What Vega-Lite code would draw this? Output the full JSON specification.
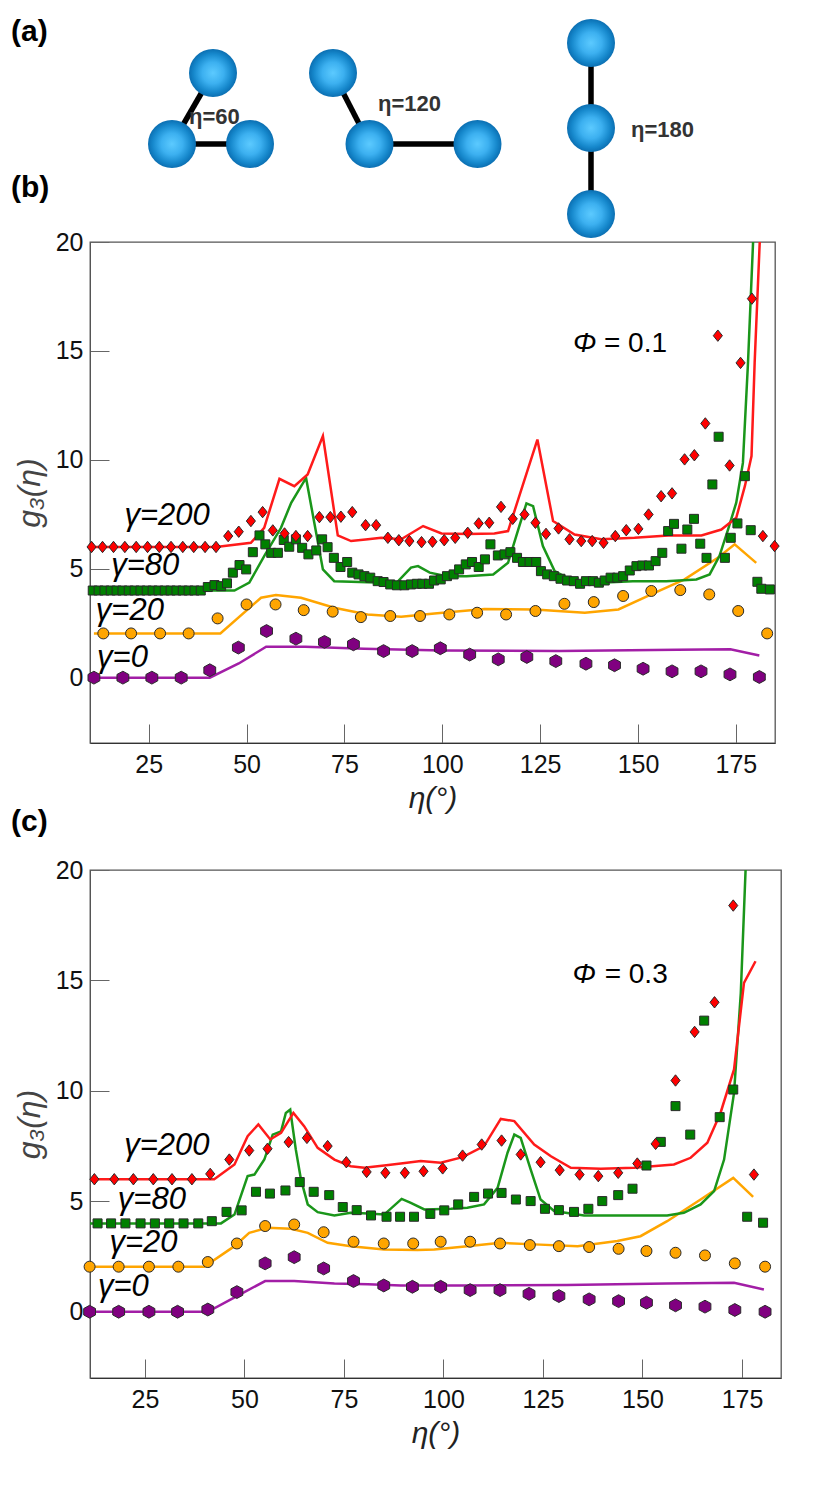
{
  "$schema": "https://vega.github.io/schema/vega-lite/v6.json",
  "background": "white",
  "padding": {"left": 10, "top": 0, "right": 0, "bottom": 0},
  "bounds": "flush",
  "spacing": 127,
  "config": {
    "font": "Liberation Sans",
    "view": {"stroke": "#555", "strokeWidth": 1.3},
    "axis": {"grid": false}
  },
  "datasets": {
    "atoms": [
      {"x": 212, "y": 73}, {"x": 171, "y": 144}, {"x": 249, "y": 144},
      {"x": 332, "y": 73}, {"x": 368.5, "y": 144}, {"x": 476.5, "y": 144},
      {"x": 590, "y": 43}, {"x": 590, "y": 128}, {"x": 590, "y": 214}
    ],
    "bonds": [
      {"x1": 171, "y1": 144, "x2": 212, "y2": 73},
      {"x1": 171, "y1": 144, "x2": 249, "y2": 144},
      {"x1": 332, "y1": 73, "x2": 368.5, "y2": 144},
      {"x1": 368.5, "y1": 144, "x2": 476.5, "y2": 144},
      {"x1": 590, "y1": 43, "x2": 590, "y2": 128},
      {"x1": 590, "y1": 128, "x2": 590, "y2": 214}
    ],
    "notes": [
      {"x": 188, "y": 117, "t": "η=60"},
      {"x": 377, "y": 104, "t": "η=120"},
      {"x": 630, "y": 130, "t": "η=180"}
    ],
    "panels": [
      {"x": 10, "y": 32, "t": "(a)"},
      {"x": 10, "y": 188, "t": "(b)"}
    ],
    "b_pts": [
      {"g": "0", "eta": 11, "val": 0}, {"g": "0", "eta": 18.4, "val": 0}, {"g": "0", "eta": 25.8, "val": 0}, {"g": "0", "eta": 33.3, "val": 0},
      {"g": "0", "eta": 40.6, "val": 0.34}, {"g": "0", "eta": 47.9, "val": 1.38}, {"g": "0", "eta": 55.1, "val": 2.14}, {"g": "0", "eta": 62.6, "val": 1.79},
      {"g": "0", "eta": 69.9, "val": 1.64}, {"g": "0", "eta": 77.3, "val": 1.53}, {"g": "0", "eta": 85, "val": 1.22}, {"g": "0", "eta": 92.3, "val": 1.22},
      {"g": "0", "eta": 99.5, "val": 1.35}, {"g": "0", "eta": 107, "val": 1.06}, {"g": "0", "eta": 114.3, "val": 0.84}, {"g": "0", "eta": 121.6, "val": 0.95},
      {"g": "0", "eta": 129, "val": 0.76}, {"g": "0", "eta": 136.7, "val": 0.64}, {"g": "0", "eta": 144, "val": 0.57}, {"g": "0", "eta": 151.3, "val": 0.41},
      {"g": "0", "eta": 158.7, "val": 0.29}, {"g": "0", "eta": 166.1, "val": 0.29}, {"g": "0", "eta": 173.5, "val": 0.15}, {"g": "0", "eta": 181, "val": 0.03},
      {"g": "20", "eta": 13.4, "val": 2.03}, {"g": "20", "eta": 20.5, "val": 2.03}, {"g": "20", "eta": 27.9, "val": 2.03}, {"g": "20", "eta": 35.2, "val": 2.03},
      {"g": "20", "eta": 42.6, "val": 2.72}, {"g": "20", "eta": 50, "val": 3.36}, {"g": "20", "eta": 57.4, "val": 3.36}, {"g": "20", "eta": 64.6, "val": 3.1},
      {"g": "20", "eta": 72, "val": 3.03}, {"g": "20", "eta": 79.2, "val": 2.78}, {"g": "20", "eta": 86.7, "val": 2.83}, {"g": "20", "eta": 94.3, "val": 2.83},
      {"g": "20", "eta": 101.8, "val": 2.9}, {"g": "20", "eta": 108.9, "val": 2.98}, {"g": "20", "eta": 116.3, "val": 2.9}, {"g": "20", "eta": 123.8, "val": 3.06},
      {"g": "20", "eta": 131.2, "val": 3.39}, {"g": "20", "eta": 138.7, "val": 3.47}, {"g": "20", "eta": 146.2, "val": 3.75}, {"g": "20", "eta": 153.4, "val": 3.98},
      {"g": "20", "eta": 160.8, "val": 4.02}, {"g": "20", "eta": 168.2, "val": 3.82}, {"g": "20", "eta": 175.6, "val": 3.06}, {"g": "20", "eta": 183, "val": 2.03},
      {"g": "80", "eta": 10.7, "val": 4}, {"g": "80", "eta": 12.2, "val": 4}, {"g": "80", "eta": 13.7, "val": 4}, {"g": "80", "eta": 15.3, "val": 4},
      {"g": "80", "eta": 16.8, "val": 4}, {"g": "80", "eta": 18.3, "val": 4}, {"g": "80", "eta": 19.9, "val": 4}, {"g": "80", "eta": 21.4, "val": 4},
      {"g": "80", "eta": 22.9, "val": 4}, {"g": "80", "eta": 24.5, "val": 4}, {"g": "80", "eta": 26, "val": 4}, {"g": "80", "eta": 27.5, "val": 4},
      {"g": "80", "eta": 29.1, "val": 4}, {"g": "80", "eta": 30.6, "val": 4}, {"g": "80", "eta": 32.1, "val": 4}, {"g": "80", "eta": 33.7, "val": 4},
      {"g": "80", "eta": 35.2, "val": 4}, {"g": "80", "eta": 36.7, "val": 4}, {"g": "80", "eta": 38.3, "val": 4},
      {"g": "80", "eta": 40.1, "val": 4.16}, {"g": "80", "eta": 41.8, "val": 4.25}, {"g": "80", "eta": 43.5, "val": 4.2}, {"g": "80", "eta": 45, "val": 4.33},
      {"g": "80", "eta": 46.5, "val": 4.82}, {"g": "80", "eta": 48.2, "val": 5.17}, {"g": "80", "eta": 49.9, "val": 4.97}, {"g": "80", "eta": 51.6, "val": 5.76},
      {"g": "80", "eta": 53.3, "val": 6.53}, {"g": "80", "eta": 54.8, "val": 6.12}, {"g": "80", "eta": 56.3, "val": 5.73}, {"g": "80", "eta": 58, "val": 5.73},
      {"g": "80", "eta": 59.5, "val": 6.32}, {"g": "80", "eta": 60.9, "val": 6.01}, {"g": "80", "eta": 62.6, "val": 6.35}, {"g": "80", "eta": 64.2, "val": 5.96},
      {"g": "80", "eta": 65.8, "val": 5.66}, {"g": "80", "eta": 67.8, "val": 5.84}, {"g": "80", "eta": 69.3, "val": 6.35}, {"g": "80", "eta": 70.7, "val": 5.99},
      {"g": "80", "eta": 72.3, "val": 5.5}, {"g": "80", "eta": 74, "val": 5.08}, {"g": "80", "eta": 75.7, "val": 5.31}, {"g": "80", "eta": 77, "val": 4.82},
      {"g": "80", "eta": 78.6, "val": 4.74}, {"g": "80", "eta": 80.1, "val": 4.66}, {"g": "80", "eta": 81.6, "val": 4.59}, {"g": "80", "eta": 83.5, "val": 4.43},
      {"g": "80", "eta": 85, "val": 4.39}, {"g": "80", "eta": 86.7, "val": 4.28}, {"g": "80", "eta": 88.4, "val": 4.24}, {"g": "80", "eta": 90.3, "val": 4.24},
      {"g": "80", "eta": 92, "val": 4.28}, {"g": "80", "eta": 93.5, "val": 4.31}, {"g": "80", "eta": 94.9, "val": 4.31}, {"g": "80", "eta": 96.6, "val": 4.31},
      {"g": "80", "eta": 97.9, "val": 4.46}, {"g": "80", "eta": 99.6, "val": 4.51}, {"g": "80", "eta": 101.2, "val": 4.66}, {"g": "80", "eta": 102.9, "val": 4.74},
      {"g": "80", "eta": 104.3, "val": 4.97}, {"g": "80", "eta": 106, "val": 5.2}, {"g": "80", "eta": 107.6, "val": 5.31}, {"g": "80", "eta": 109.3, "val": 5.08},
      {"g": "80", "eta": 110.9, "val": 5.43}, {"g": "80", "eta": 112.3, "val": 6.12}, {"g": "80", "eta": 114.2, "val": 5.61}, {"g": "80", "eta": 115.9, "val": 5.66},
      {"g": "80", "eta": 117.4, "val": 5.76}, {"g": "80", "eta": 119.1, "val": 5.5}, {"g": "80", "eta": 120.6, "val": 5.31}, {"g": "80", "eta": 122.3, "val": 5.31},
      {"g": "80", "eta": 124, "val": 5.31}, {"g": "80", "eta": 125.2, "val": 4.89}, {"g": "80", "eta": 126.8, "val": 4.74}, {"g": "80", "eta": 128.5, "val": 4.66},
      {"g": "80", "eta": 130.2, "val": 4.54}, {"g": "80", "eta": 131.9, "val": 4.46}, {"g": "80", "eta": 133.6, "val": 4.43}, {"g": "80", "eta": 135.2, "val": 4.31},
      {"g": "80", "eta": 136.7, "val": 4.43}, {"g": "80", "eta": 138.5, "val": 4.43}, {"g": "80", "eta": 140, "val": 4.36}, {"g": "80", "eta": 141.5, "val": 4.46},
      {"g": "80", "eta": 143, "val": 4.59}, {"g": "80", "eta": 144.7, "val": 4.59}, {"g": "80", "eta": 146.2, "val": 4.66}, {"g": "80", "eta": 147.9, "val": 4.92},
      {"g": "80", "eta": 149.6, "val": 5.12}, {"g": "80", "eta": 151.1, "val": 5.15}, {"g": "80", "eta": 152.8, "val": 5.15}, {"g": "80", "eta": 154.5, "val": 5.35},
      {"g": "80", "eta": 156.2, "val": 5.73}, {"g": "80", "eta": 157.7, "val": 6.73}, {"g": "80", "eta": 159.2, "val": 7.06}, {"g": "80", "eta": 161.1, "val": 5.92},
      {"g": "80", "eta": 162.6, "val": 6.8}, {"g": "80", "eta": 164.3, "val": 7.29}, {"g": "80", "eta": 165.9, "val": 6.15}, {"g": "80", "eta": 167.5, "val": 5.5},
      {"g": "80", "eta": 169, "val": 8.87}, {"g": "80", "eta": 170.6, "val": 11.06}, {"g": "80", "eta": 172.2, "val": 5.5}, {"g": "80", "eta": 173.7, "val": 6.42},
      {"g": "80", "eta": 175.4, "val": 7.08}, {"g": "80", "eta": 177.3, "val": 9.25}, {"g": "80", "eta": 178.8, "val": 6.77}, {"g": "80", "eta": 180.5, "val": 4.4},
      {"g": "80", "eta": 181.5, "val": 4.08}, {"g": "80", "eta": 183.7, "val": 4.05},
      {"g": "200", "eta": 10.4, "val": 6}, {"g": "200", "eta": 13.2, "val": 6}, {"g": "200", "eta": 16, "val": 6}, {"g": "200", "eta": 18.9, "val": 6},
      {"g": "200", "eta": 21.8, "val": 6}, {"g": "200", "eta": 24.7, "val": 6}, {"g": "200", "eta": 27.7, "val": 6}, {"g": "200", "eta": 30.7, "val": 6},
      {"g": "200", "eta": 33.7, "val": 6}, {"g": "200", "eta": 36.5, "val": 6}, {"g": "200", "eta": 39.4, "val": 6}, {"g": "200", "eta": 42.2, "val": 6},
      {"g": "200", "eta": 45.3, "val": 6.5}, {"g": "200", "eta": 48, "val": 6.7}, {"g": "200", "eta": 51.1, "val": 7.19}, {"g": "200", "eta": 54.1, "val": 7.6},
      {"g": "200", "eta": 56.7, "val": 6.76}, {"g": "200", "eta": 59.7, "val": 6.62}, {"g": "200", "eta": 62.6, "val": 6.5}, {"g": "200", "eta": 65.6, "val": 6.5},
      {"g": "200", "eta": 68.6, "val": 7.37}, {"g": "200", "eta": 71.4, "val": 7.37}, {"g": "200", "eta": 74.1, "val": 7.39}, {"g": "200", "eta": 77, "val": 7.6},
      {"g": "200", "eta": 80.4, "val": 7}, {"g": "200", "eta": 83.1, "val": 7}, {"g": "200", "eta": 86.1, "val": 6.42}, {"g": "200", "eta": 88.9, "val": 6.31},
      {"g": "200", "eta": 91.6, "val": 6.27}, {"g": "200", "eta": 94.7, "val": 6.22}, {"g": "200", "eta": 97.5, "val": 6.24}, {"g": "200", "eta": 100.5, "val": 6.31},
      {"g": "200", "eta": 103.3, "val": 6.42}, {"g": "200", "eta": 106.5, "val": 6.65}, {"g": "200", "eta": 109.3, "val": 7.08}, {"g": "200", "eta": 112, "val": 7.11},
      {"g": "200", "eta": 115, "val": 7.84}, {"g": "200", "eta": 118, "val": 7.29}, {"g": "200", "eta": 121, "val": 7.49}, {"g": "200", "eta": 123.8, "val": 7.11},
      {"g": "200", "eta": 126.5, "val": 6.6}, {"g": "200", "eta": 129.7, "val": 6.85}, {"g": "200", "eta": 132.5, "val": 6.35}, {"g": "200", "eta": 135.5, "val": 6.27},
      {"g": "200", "eta": 138.3, "val": 6.27}, {"g": "200", "eta": 141.2, "val": 6.19}, {"g": "200", "eta": 144.2, "val": 6.5}, {"g": "200", "eta": 147, "val": 6.77},
      {"g": "200", "eta": 150.1, "val": 6.83}, {"g": "200", "eta": 152.7, "val": 7.49}, {"g": "200", "eta": 155.9, "val": 8.33}, {"g": "200", "eta": 158.7, "val": 8.46},
      {"g": "200", "eta": 161.9, "val": 10.02}, {"g": "200", "eta": 164.4, "val": 10.21}, {"g": "200", "eta": 167.2, "val": 11.67}, {"g": "200", "eta": 170.4, "val": 15.7},
      {"g": "200", "eta": 173.4, "val": 9.74}, {"g": "200", "eta": 176.2, "val": 14.45}, {"g": "200", "eta": 179.1, "val": 17.4}, {"g": "200", "eta": 181.9, "val": 6.5},
      {"g": "200", "eta": 184.9, "val": 6.04}
    ],
    "b_lines": [
      {"g": "0", "eta": 11, "val": 0}, {"g": "0", "eta": 40.6, "val": 0}, {"g": "0", "eta": 48, "val": 0.65}, {"g": "0", "eta": 55, "val": 1.42},
      {"g": "0", "eta": 65, "val": 1.42}, {"g": "0", "eta": 80, "val": 1.33}, {"g": "0", "eta": 100, "val": 1.25}, {"g": "0", "eta": 130, "val": 1.22},
      {"g": "0", "eta": 160, "val": 1.28}, {"g": "0", "eta": 173.6, "val": 1.3}, {"g": "0", "eta": 181, "val": 1.02},
      {"g": "20", "eta": 11, "val": 2.03}, {"g": "20", "eta": 43.3, "val": 2.03}, {"g": "20", "eta": 53.7, "val": 3.67}, {"g": "20", "eta": 57.5, "val": 3.79},
      {"g": "20", "eta": 63.9, "val": 3.67}, {"g": "20", "eta": 72.4, "val": 3.21}, {"g": "20", "eta": 80.9, "val": 2.9}, {"g": "20", "eta": 89.5, "val": 2.8},
      {"g": "20", "eta": 98, "val": 2.95}, {"g": "20", "eta": 110.8, "val": 3.15}, {"g": "20", "eta": 123.6, "val": 3.13}, {"g": "20", "eta": 136.4, "val": 2.98},
      {"g": "20", "eta": 145, "val": 3.13}, {"g": "20", "eta": 153.4, "val": 3.82}, {"g": "20", "eta": 161.9, "val": 4.51}, {"g": "20", "eta": 170.4, "val": 5.5},
      {"g": "20", "eta": 174.7, "val": 6.12}, {"g": "20", "eta": 180.2, "val": 5.27},
      {"g": "80", "eta": 11, "val": 4}, {"g": "80", "eta": 46.9, "val": 4}, {"g": "80", "eta": 50.7, "val": 4.36}, {"g": "80", "eta": 54.5, "val": 5.58},
      {"g": "80", "eta": 58.8, "val": 6.88}, {"g": "80", "eta": 61.4, "val": 8.03}, {"g": "80", "eta": 65.2, "val": 9.17}, {"g": "80", "eta": 67.3, "val": 7.11},
      {"g": "80", "eta": 69.5, "val": 4.97}, {"g": "80", "eta": 72.4, "val": 4.43}, {"g": "80", "eta": 76.7, "val": 4.4}, {"g": "80", "eta": 85.2, "val": 4.36},
      {"g": "80", "eta": 88.2, "val": 4.33}, {"g": "80", "eta": 92, "val": 5.05}, {"g": "80", "eta": 93.8, "val": 5.12}, {"g": "80", "eta": 96.8, "val": 4.82},
      {"g": "80", "eta": 101.1, "val": 4.66}, {"g": "80", "eta": 106.2, "val": 4.66}, {"g": "80", "eta": 113, "val": 4.74}, {"g": "80", "eta": 116.8, "val": 5.27},
      {"g": "80", "eta": 119.4, "val": 6.8}, {"g": "80", "eta": 121.5, "val": 8}, {"g": "80", "eta": 123.2, "val": 7.87}, {"g": "80", "eta": 125.7, "val": 6.04},
      {"g": "80", "eta": 128.7, "val": 4.89}, {"g": "80", "eta": 133.4, "val": 4.43}, {"g": "80", "eta": 140.2, "val": 4.36}, {"g": "80", "eta": 148.7, "val": 4.43},
      {"g": "80", "eta": 157.2, "val": 4.43}, {"g": "80", "eta": 164.9, "val": 4.51}, {"g": "80", "eta": 168.3, "val": 4.74}, {"g": "80", "eta": 170.8, "val": 5.58},
      {"g": "80", "eta": 173, "val": 6.8}, {"g": "80", "eta": 175.1, "val": 8.03}, {"g": "80", "eta": 176.8, "val": 9.86}, {"g": "80", "eta": 178.1, "val": 14.45},
      {"g": "80", "eta": 179.4, "val": 20}, {"g": "80", "eta": 180, "val": 24},
      {"g": "200", "eta": 11, "val": 6}, {"g": "200", "eta": 42.2, "val": 6}, {"g": "200", "eta": 51.1, "val": 6.19}, {"g": "200", "eta": 54.5, "val": 6.88},
      {"g": "200", "eta": 58.4, "val": 9.13}, {"g": "200", "eta": 62.2, "val": 8.79}, {"g": "200", "eta": 65.6, "val": 9.33}, {"g": "200", "eta": 69.5, "val": 11.09},
      {"g": "200", "eta": 73.3, "val": 6.53}, {"g": "200", "eta": 76.7, "val": 6.27}, {"g": "200", "eta": 81, "val": 6.35}, {"g": "200", "eta": 84.4, "val": 6.42},
      {"g": "200", "eta": 89.5, "val": 6.35}, {"g": "200", "eta": 95.1, "val": 6.96}, {"g": "200", "eta": 99.8, "val": 6.62}, {"g": "200", "eta": 106.5, "val": 6.6},
      {"g": "200", "eta": 113.3, "val": 6.62}, {"g": "200", "eta": 116.8, "val": 6.73}, {"g": "200", "eta": 124.3, "val": 10.93}, {"g": "200", "eta": 128.3, "val": 7.19},
      {"g": "200", "eta": 133.8, "val": 6.57}, {"g": "200", "eta": 140.6, "val": 6.35}, {"g": "200", "eta": 149.1, "val": 6.42}, {"g": "200", "eta": 157.7, "val": 6.53},
      {"g": "200", "eta": 166.2, "val": 6.53}, {"g": "200", "eta": 171.3, "val": 6.8}, {"g": "200", "eta": 175.1, "val": 7.34}, {"g": "200", "eta": 177.3, "val": 8.79},
      {"g": "200", "eta": 179, "val": 10.17}, {"g": "200", "eta": 179.8, "val": 14.45}, {"g": "200", "eta": 181.1, "val": 20}, {"g": "200", "eta": 181.6, "val": 24}
    ],
    "b_text": [
      {"kind": "gamma", "eta": 18.8, "val": 7.4, "t": "γ=200"},
      {"kind": "gamma", "eta": 15.4, "val": 5.12, "t": "γ=80"},
      {"kind": "gamma", "eta": 11.5, "val": 3.06, "t": "γ=20"},
      {"kind": "gamma", "eta": 11.8, "val": 0.92, "t": "γ=0"},
      {"kind": "phi", "eta": 133.4, "val": 15.3, "t": "Φ"},
      {"kind": "phival", "eta": 141.3, "val": 15.3, "t": "= 0.1"}
    ],
    "c_pts": [
      {"g": "0", "eta": 11.1, "val": 0}, {"g": "0", "eta": 18.4, "val": 0}, {"g": "0", "eta": 26, "val": 0}, {"g": "0", "eta": 33.2, "val": 0},
      {"g": "0", "eta": 40.8, "val": 0.1}, {"g": "0", "eta": 48.1, "val": 0.89}, {"g": "0", "eta": 55.2, "val": 2.19}, {"g": "0", "eta": 62.5, "val": 2.47},
      {"g": "0", "eta": 69.9, "val": 1.96}, {"g": "0", "eta": 77.4, "val": 1.39}, {"g": "0", "eta": 85, "val": 1.19}, {"g": "0", "eta": 92.2, "val": 1.13},
      {"g": "0", "eta": 99.3, "val": 1.13}, {"g": "0", "eta": 106.7, "val": 0.98}, {"g": "0", "eta": 114.2, "val": 0.98}, {"g": "0", "eta": 121.5, "val": 0.81},
      {"g": "0", "eta": 129, "val": 0.71}, {"g": "0", "eta": 136.6, "val": 0.56}, {"g": "0", "eta": 144, "val": 0.48}, {"g": "0", "eta": 151, "val": 0.41},
      {"g": "0", "eta": 158.3, "val": 0.29}, {"g": "0", "eta": 165.7, "val": 0.23}, {"g": "0", "eta": 173.2, "val": 0.08}, {"g": "0", "eta": 180.8, "val": 0},
      {"g": "20", "eta": 11.1, "val": 2.04}, {"g": "20", "eta": 18.4, "val": 2.04}, {"g": "20", "eta": 26, "val": 2.04}, {"g": "20", "eta": 33.4, "val": 2.04},
      {"g": "20", "eta": 40.8, "val": 2.25}, {"g": "20", "eta": 48.1, "val": 3.09}, {"g": "20", "eta": 55.2, "val": 3.88}, {"g": "20", "eta": 62.5, "val": 3.95},
      {"g": "20", "eta": 69.9, "val": 3.6}, {"g": "20", "eta": 77.4, "val": 3.17}, {"g": "20", "eta": 85, "val": 3.09}, {"g": "20", "eta": 92.4, "val": 3.09},
      {"g": "20", "eta": 99.3, "val": 3.17}, {"g": "20", "eta": 106.7, "val": 3.17}, {"g": "20", "eta": 114.2, "val": 3.09}, {"g": "20", "eta": 121.7, "val": 3.02},
      {"g": "20", "eta": 129, "val": 2.97}, {"g": "20", "eta": 136.6, "val": 2.93}, {"g": "20", "eta": 144, "val": 2.85}, {"g": "20", "eta": 151, "val": 2.75},
      {"g": "20", "eta": 158.3, "val": 2.67}, {"g": "20", "eta": 165.7, "val": 2.55}, {"g": "20", "eta": 173.2, "val": 2.19}, {"g": "20", "eta": 180.8, "val": 2.04},
      {"g": "80", "eta": 13.1, "val": 4}, {"g": "80", "eta": 16.5, "val": 4}, {"g": "80", "eta": 20.1, "val": 4}, {"g": "80", "eta": 23.9, "val": 4},
      {"g": "80", "eta": 27.5, "val": 4}, {"g": "80", "eta": 31.1, "val": 4}, {"g": "80", "eta": 34.7, "val": 4}, {"g": "80", "eta": 38.4, "val": 4},
      {"g": "80", "eta": 41.8, "val": 4.1}, {"g": "80", "eta": 45.5, "val": 4.52}, {"g": "80", "eta": 49.3, "val": 4.59}, {"g": "80", "eta": 52.9, "val": 5.43},
      {"g": "80", "eta": 56.4, "val": 5.35}, {"g": "80", "eta": 60.3, "val": 5.49}, {"g": "80", "eta": 63.9, "val": 5.87}, {"g": "80", "eta": 67.4, "val": 5.43},
      {"g": "80", "eta": 71.3, "val": 5.28}, {"g": "80", "eta": 74.7, "val": 4.74}, {"g": "80", "eta": 78.2, "val": 4.6}, {"g": "80", "eta": 81.8, "val": 4.36},
      {"g": "80", "eta": 85.7, "val": 4.3}, {"g": "80", "eta": 89.1, "val": 4.3}, {"g": "80", "eta": 92.6, "val": 4.3}, {"g": "80", "eta": 96.7, "val": 4.43},
      {"g": "80", "eta": 100.2, "val": 4.59}, {"g": "80", "eta": 103.7, "val": 4.86}, {"g": "80", "eta": 107.7, "val": 5.2}, {"g": "80", "eta": 111.2, "val": 5.35},
      {"g": "80", "eta": 114.6, "val": 5.38}, {"g": "80", "eta": 118.2, "val": 5.08}, {"g": "80", "eta": 121.9, "val": 5.01}, {"g": "80", "eta": 125.5, "val": 4.66},
      {"g": "80", "eta": 129, "val": 4.6}, {"g": "80", "eta": 132.8, "val": 4.52}, {"g": "80", "eta": 136.4, "val": 4.66}, {"g": "80", "eta": 139.9, "val": 5.01},
      {"g": "80", "eta": 143.9, "val": 5.28}, {"g": "80", "eta": 147.5, "val": 5.57}, {"g": "80", "eta": 151, "val": 6.62}, {"g": "80", "eta": 154.6, "val": 7.69},
      {"g": "80", "eta": 158.3, "val": 9.31}, {"g": "80", "eta": 162, "val": 8.02}, {"g": "80", "eta": 165.5, "val": 13.18}, {"g": "80", "eta": 169.4, "val": 8.81},
      {"g": "80", "eta": 172.8, "val": 10.06}, {"g": "80", "eta": 176.3, "val": 4.3}, {"g": "80", "eta": 180.3, "val": 4.03},
      {"g": "200", "eta": 12.3, "val": 6}, {"g": "200", "eta": 17.3, "val": 6}, {"g": "200", "eta": 22.1, "val": 6}, {"g": "200", "eta": 27.1, "val": 6},
      {"g": "200", "eta": 31.8, "val": 6}, {"g": "200", "eta": 36.8, "val": 6}, {"g": "200", "eta": 41.4, "val": 6.24}, {"g": "200", "eta": 46.2, "val": 6.89},
      {"g": "200", "eta": 51.2, "val": 7.3}, {"g": "200", "eta": 55.8, "val": 7.38}, {"g": "200", "eta": 61.1, "val": 7.68}, {"g": "200", "eta": 65.7, "val": 7.87},
      {"g": "200", "eta": 70.9, "val": 7.5}, {"g": "200", "eta": 75.6, "val": 6.77}, {"g": "200", "eta": 80.7, "val": 6.33}, {"g": "200", "eta": 85.4, "val": 6.29},
      {"g": "200", "eta": 90.3, "val": 6.29}, {"g": "200", "eta": 95, "val": 6.36}, {"g": "200", "eta": 99.8, "val": 6.49}, {"g": "200", "eta": 104.8, "val": 7.07},
      {"g": "200", "eta": 109.6, "val": 7.57}, {"g": "200", "eta": 114.6, "val": 7.75}, {"g": "200", "eta": 119.4, "val": 7.12}, {"g": "200", "eta": 124.4, "val": 6.77},
      {"g": "200", "eta": 129.2, "val": 6.41}, {"g": "200", "eta": 134.2, "val": 6.21}, {"g": "200", "eta": 138.9, "val": 6.14}, {"g": "200", "eta": 143.9, "val": 6.29},
      {"g": "200", "eta": 148.7, "val": 6.71}, {"g": "200", "eta": 153.3, "val": 7.6}, {"g": "200", "eta": 158.3, "val": 10.47}, {"g": "200", "eta": 163.1, "val": 12.67},
      {"g": "200", "eta": 168.1, "val": 14.01}, {"g": "200", "eta": 172.8, "val": 18.39}, {"g": "200", "eta": 178, "val": 6.21}
    ],
    "c_lines": [
      {"g": "0", "eta": 11, "val": 0}, {"g": "0", "eta": 40.8, "val": 0}, {"g": "0", "eta": 48, "val": 0.7}, {"g": "0", "eta": 55.2, "val": 1.39},
      {"g": "0", "eta": 62.5, "val": 1.39}, {"g": "0", "eta": 72.6, "val": 1.28}, {"g": "0", "eta": 81, "val": 1.24}, {"g": "0", "eta": 89.3, "val": 1.19},
      {"g": "0", "eta": 106, "val": 1.19}, {"g": "0", "eta": 131, "val": 1.21}, {"g": "0", "eta": 156, "val": 1.28}, {"g": "0", "eta": 173, "val": 1.31},
      {"g": "0", "eta": 180.5, "val": 1.01},
      {"g": "20", "eta": 11, "val": 2.04}, {"g": "20", "eta": 39.9, "val": 2.04}, {"g": "20", "eta": 47.5, "val": 2.97}, {"g": "20", "eta": 51.2, "val": 3.57},
      {"g": "20", "eta": 55.8, "val": 3.8}, {"g": "20", "eta": 61.7, "val": 3.76}, {"g": "20", "eta": 65.9, "val": 3.57}, {"g": "20", "eta": 70.9, "val": 3.12},
      {"g": "20", "eta": 76.7, "val": 2.97}, {"g": "20", "eta": 85.1, "val": 2.82}, {"g": "20", "eta": 93.5, "val": 2.79}, {"g": "20", "eta": 97.7, "val": 2.82},
      {"g": "20", "eta": 106, "val": 2.97}, {"g": "20", "eta": 114.4, "val": 3.12}, {"g": "20", "eta": 122.8, "val": 3.05}, {"g": "20", "eta": 133.7, "val": 2.97},
      {"g": "20", "eta": 143.7, "val": 3.2}, {"g": "20", "eta": 149.5, "val": 3.42}, {"g": "20", "eta": 156.2, "val": 4.1}, {"g": "20", "eta": 164.6, "val": 5.08},
      {"g": "20", "eta": 172.8, "val": 6.06}, {"g": "20", "eta": 177.8, "val": 5.2},
      {"g": "80", "eta": 11, "val": 4}, {"g": "80", "eta": 44.1, "val": 4}, {"g": "80", "eta": 47.5, "val": 4.4}, {"g": "80", "eta": 50.8, "val": 6.14},
      {"g": "80", "eta": 52.5, "val": 6.21}, {"g": "80", "eta": 55, "val": 6.89}, {"g": "80", "eta": 57.1, "val": 8.02}, {"g": "80", "eta": 59.2, "val": 8.17},
      {"g": "80", "eta": 60.4, "val": 9}, {"g": "80", "eta": 61.5, "val": 9.15}, {"g": "80", "eta": 62.9, "val": 7.35}, {"g": "80", "eta": 64.2, "val": 5.99},
      {"g": "80", "eta": 65.9, "val": 4.86}, {"g": "80", "eta": 68.4, "val": 4.51}, {"g": "80", "eta": 72.6, "val": 4.36}, {"g": "80", "eta": 76.7, "val": 4.48},
      {"g": "80", "eta": 81, "val": 4.45}, {"g": "80", "eta": 85.1, "val": 4.4}, {"g": "80", "eta": 89.5, "val": 5.11}, {"g": "80", "eta": 91.8, "val": 4.93},
      {"g": "80", "eta": 95.2, "val": 4.63}, {"g": "80", "eta": 101.9, "val": 4.66}, {"g": "80", "eta": 106, "val": 4.71}, {"g": "80", "eta": 110.2, "val": 4.86},
      {"g": "80", "eta": 113.6, "val": 5.61}, {"g": "80", "eta": 116.1, "val": 7.2}, {"g": "80", "eta": 117.8, "val": 8.02}, {"g": "80", "eta": 119.4, "val": 7.87},
      {"g": "80", "eta": 121.9, "val": 6.44}, {"g": "80", "eta": 124.4, "val": 5.08}, {"g": "80", "eta": 127.8, "val": 4.56}, {"g": "80", "eta": 135.3, "val": 4.36},
      {"g": "80", "eta": 147.9, "val": 4.36}, {"g": "80", "eta": 156.2, "val": 4.36}, {"g": "80", "eta": 160.4, "val": 4.48}, {"g": "80", "eta": 164.6, "val": 4.86},
      {"g": "80", "eta": 168, "val": 5.46}, {"g": "80", "eta": 170.5, "val": 6.89}, {"g": "80", "eta": 173, "val": 9.91}, {"g": "80", "eta": 174.7, "val": 14.43},
      {"g": "80", "eta": 175.9, "val": 20}, {"g": "80", "eta": 176.3, "val": 24},
      {"g": "200", "eta": 11, "val": 6}, {"g": "200", "eta": 42.4, "val": 6}, {"g": "200", "eta": 47.5, "val": 6.67}, {"g": "200", "eta": 50.8, "val": 7.95},
      {"g": "200", "eta": 53.5, "val": 8.48}, {"g": "200", "eta": 56.5, "val": 7.8}, {"g": "200", "eta": 59.2, "val": 8.1}, {"g": "200", "eta": 62.3, "val": 9},
      {"g": "200", "eta": 65, "val": 8.4}, {"g": "200", "eta": 68.4, "val": 7.42}, {"g": "200", "eta": 72.6, "val": 6.89}, {"g": "200", "eta": 76.7, "val": 6.59},
      {"g": "200", "eta": 80.1, "val": 6.52}, {"g": "200", "eta": 85.1, "val": 6.62}, {"g": "200", "eta": 89.3, "val": 6.71}, {"g": "200", "eta": 94.3, "val": 6.82},
      {"g": "200", "eta": 99.3, "val": 6.75}, {"g": "200", "eta": 104.8, "val": 7}, {"g": "200", "eta": 110.2, "val": 7.5}, {"g": "200", "eta": 114.4, "val": 8.73},
      {"g": "200", "eta": 117.8, "val": 8.63}, {"g": "200", "eta": 122.8, "val": 7.57}, {"g": "200", "eta": 127, "val": 7.04}, {"g": "200", "eta": 132, "val": 6.52},
      {"g": "200", "eta": 139.5, "val": 6.47}, {"g": "200", "eta": 147.9, "val": 6.52}, {"g": "200", "eta": 157.9, "val": 6.67}, {"g": "200", "eta": 162.1, "val": 6.97},
      {"g": "200", "eta": 166.3, "val": 7.65}, {"g": "200", "eta": 169.6, "val": 9}, {"g": "200", "eta": 173, "val": 10.97}, {"g": "200", "eta": 175.5, "val": 14.89},
      {"g": "200", "eta": 178.4, "val": 15.87}
    ],
    "c_text": [
      {"kind": "gamma", "eta": 19.8, "val": 7.49, "t": "γ=200"},
      {"kind": "gamma", "eta": 18.2, "val": 5.08, "t": "γ=80"},
      {"kind": "gamma", "eta": 16.1, "val": 3.13, "t": "γ=20"},
      {"kind": "gamma", "eta": 13.2, "val": 1.1, "t": "γ=0"},
      {"kind": "phi", "eta": 132.4, "val": 15.26, "t": "Φ"},
      {"kind": "phival", "eta": 140.5, "val": 15.26, "t": "= 0.3"},
      {"kind": "panel", "eta": -8.65, "val": 22.17, "t": "(c)"}
    ]
  },
  "vconcat": [
    {
      "width": 685,
      "height": 115,
      "view": {"stroke": null},
      "encoding": {
        "x": {"field": "x", "type": "quantitative", "scale": {"domain": [89, 774]}, "axis": null},
        "y": {"field": "y", "type": "quantitative", "scale": {"domain": [0, 115], "reverse": true}, "axis": null}
      },
      "layer": [
        {
          "data": {"name": "bonds"},
          "mark": {"type": "rule", "strokeWidth": 5.5, "color": "#000000"},
          "encoding": {
            "x": {"field": "x1", "type": "quantitative", "scale": {"domain": [89, 774]}, "axis": null},
            "y": {"field": "y1", "type": "quantitative", "scale": {"domain": [0, 115], "reverse": true}, "axis": null},
            "x2": {"field": "x2"},
            "y2": {"field": "y2"}
          }
        },
        {
          "data": {"name": "atoms"},
          "mark": {
            "type": "point",
            "shape": "circle",
            "filled": true,
            "size": 2304,
            "opacity": 1,
            "strokeWidth": 0,
            "fill": {
              "gradient": "radial",
              "x1": 0.5, "y1": 0.5, "r1": 0,
              "x2": 0.5, "y2": 0.5, "r2": 0.5,
              "stops": [
                {"offset": 0, "color": "#5ccaff"},
                {"offset": 0.45, "color": "#3cb0f0"},
                {"offset": 0.8, "color": "#1688cc"},
                {"offset": 1, "color": "#0b6fb2"}
              ]
            }
          }
        },
        {
          "data": {"name": "notes"},
          "mark": {"type": "text", "align": "left", "baseline": "middle", "fontSize": 22, "fontWeight": "bold", "color": "#333333"},
          "encoding": {"text": {"field": "t"}}
        },
        {
          "data": {"name": "panels"},
          "mark": {"type": "text", "align": "left", "baseline": "middle", "fontSize": 30, "fontWeight": "bold", "color": "#000000"},
          "encoding": {"text": {"field": "t"}}
        }
      ]
    },
    {
      "width": 685,
      "height": 501,
      "encoding": {
        "x": {
          "field": "eta", "type": "quantitative",
          "scale": {"domain": [10, 185]},
          "axis": {
            "values": [25, 50, 75, 100, 125, 150, 175],
            "tickSize": -19, "tickColor": "#666666", "domainColor": "#333333",
            "labelPadding": 28, "labelFontSize": 25, "labelColor": "#111111",
            "title": "η(°)", "titleFontSize": 30, "titleFontStyle": "italic", "titleFontWeight": "normal",
            "titleColor": "#222222", "titlePadding": 6
          }
        },
        "y": {
          "field": "val", "type": "quantitative",
          "scale": {"domain": [-3, 20]},
          "axis": {
            "values": [0, 5, 10, 15, 20],
            "tickSize": -19, "tickColor": "#666666", "domainColor": "#555555",
            "labelPadding": 26, "labelFontSize": 25, "labelColor": "#111111",
            "title": "g₃(η)", "titleFontSize": 32, "titleFontStyle": "italic", "titleFontWeight": "normal",
            "titleColor": "#444444", "titlePadding": 9
          }
        }
      },
      "layer": [
        {
          "data": {"name": "b_lines"},
          "mark": {"type": "line", "clip": true, "strokeWidth": 2.5},
          "encoding": {
            "stroke": {"field": "g", "type": "nominal", "scale": {"domain": ["0", "20", "80", "200"], "range": ["#a21ea6", "#ffa500", "#1a961a", "#ff1a1a"]}, "legend": null}
          }
        },
        {
          "data": {"name": "b_pts"},
          "transform": [{"filter": "datum.g === '0'"}],
          "mark": {"type": "point", "shape": "M0,-1L0.92,-0.5L0.92,0.5L0,1L-0.92,0.5L-0.92,-0.5Z", "size": 165, "filled": true, "opacity": 1, "fill": "#800080", "stroke": "#2a2a2a", "strokeWidth": 1}
        },
        {
          "data": {"name": "b_pts"},
          "transform": [{"filter": "datum.g === '20'"}],
          "mark": {"type": "point", "shape": "circle", "size": 121, "filled": true, "opacity": 1, "fill": "#ffa500", "stroke": "#2a2a2a", "strokeWidth": 1}
        },
        {
          "data": {"name": "b_pts"},
          "transform": [{"filter": "datum.g === '80'"}],
          "mark": {"type": "point", "shape": "square", "size": 81, "filled": true, "opacity": 1, "fill": "#008000", "stroke": "#2a2a2a", "strokeWidth": 1}
        },
        {
          "data": {"name": "b_pts"},
          "transform": [{"filter": "datum.g === '200'"}],
          "mark": {"type": "point", "shape": "M0,-1L0.8,0L0,1L-0.8,0Z", "size": 130, "filled": true, "opacity": 1, "fill": "#ff0000", "stroke": "#2a2a2a", "strokeWidth": 1}
        },
        {
          "data": {"name": "b_text"},
          "transform": [{"filter": "datum.kind === 'gamma'"}],
          "mark": {"type": "text", "align": "left", "baseline": "middle", "fontSize": 31, "fontStyle": "italic", "color": "#000000"},
          "encoding": {"text": {"field": "t"}}
        },
        {
          "data": {"name": "b_text"},
          "transform": [{"filter": "datum.kind === 'phi'"}],
          "mark": {"type": "text", "align": "left", "baseline": "middle", "fontSize": 28, "fontStyle": "italic", "color": "#000000"},
          "encoding": {"text": {"field": "t"}}
        },
        {
          "data": {"name": "b_text"},
          "transform": [{"filter": "datum.kind === 'phival'"}],
          "mark": {"type": "text", "align": "left", "baseline": "middle", "fontSize": 28, "color": "#000000"},
          "encoding": {"text": {"field": "t"}}
        }
      ]
    },
    {
      "width": 691,
      "height": 508,
      "encoding": {
        "x": {
          "field": "eta", "type": "quantitative",
          "scale": {"domain": [11.2, 184.8]},
          "axis": {
            "values": [25, 50, 75, 100, 125, 150, 175],
            "tickSize": -19, "tickColor": "#666666", "domainColor": "#333333",
            "labelPadding": 28, "labelFontSize": 25, "labelColor": "#111111",
            "title": "η(°)", "titleFontSize": 30, "titleFontStyle": "italic", "titleFontWeight": "normal",
            "titleColor": "#222222", "titlePadding": 6
          }
        },
        "y": {
          "field": "val", "type": "quantitative",
          "scale": {"domain": [-3, 20]},
          "axis": {
            "values": [0, 5, 10, 15, 20],
            "tickSize": -19, "tickColor": "#666666", "domainColor": "#555555",
            "labelPadding": 26, "labelFontSize": 25, "labelColor": "#111111",
            "title": "g₃(η)", "titleFontSize": 32, "titleFontStyle": "italic", "titleFontWeight": "normal",
            "titleColor": "#444444", "titlePadding": 9
          }
        }
      },
      "layer": [
        {
          "data": {"name": "c_lines"},
          "mark": {"type": "line", "clip": true, "strokeWidth": 2.5},
          "encoding": {
            "stroke": {"field": "g", "type": "nominal", "scale": {"domain": ["0", "20", "80", "200"], "range": ["#a21ea6", "#ffa500", "#1a961a", "#ff1a1a"]}, "legend": null}
          }
        },
        {
          "data": {"name": "c_pts"},
          "transform": [{"filter": "datum.g === '0'"}],
          "mark": {"type": "point", "shape": "M0,-1L0.92,-0.5L0.92,0.5L0,1L-0.92,0.5L-0.92,-0.5Z", "size": 165, "filled": true, "opacity": 1, "fill": "#800080", "stroke": "#2a2a2a", "strokeWidth": 1}
        },
        {
          "data": {"name": "c_pts"},
          "transform": [{"filter": "datum.g === '20'"}],
          "mark": {"type": "point", "shape": "circle", "size": 121, "filled": true, "opacity": 1, "fill": "#ffa500", "stroke": "#2a2a2a", "strokeWidth": 1}
        },
        {
          "data": {"name": "c_pts"},
          "transform": [{"filter": "datum.g === '80'"}],
          "mark": {"type": "point", "shape": "square", "size": 81, "filled": true, "opacity": 1, "fill": "#008000", "stroke": "#2a2a2a", "strokeWidth": 1}
        },
        {
          "data": {"name": "c_pts"},
          "transform": [{"filter": "datum.g === '200'"}],
          "mark": {"type": "point", "shape": "M0,-1L0.8,0L0,1L-0.8,0Z", "size": 130, "filled": true, "opacity": 1, "fill": "#ff0000", "stroke": "#2a2a2a", "strokeWidth": 1}
        },
        {
          "data": {"name": "c_text"},
          "transform": [{"filter": "datum.kind === 'gamma'"}],
          "mark": {"type": "text", "align": "left", "baseline": "middle", "fontSize": 31, "fontStyle": "italic", "color": "#000000"},
          "encoding": {"text": {"field": "t"}}
        },
        {
          "data": {"name": "c_text"},
          "transform": [{"filter": "datum.kind === 'phi'"}],
          "mark": {"type": "text", "align": "left", "baseline": "middle", "fontSize": 28, "fontStyle": "italic", "color": "#000000"},
          "encoding": {"text": {"field": "t"}}
        },
        {
          "data": {"name": "c_text"},
          "transform": [{"filter": "datum.kind === 'phival'"}],
          "mark": {"type": "text", "align": "left", "baseline": "middle", "fontSize": 28, "color": "#000000"},
          "encoding": {"text": {"field": "t"}}
        },
        {
          "data": {"name": "c_text"},
          "transform": [{"filter": "datum.kind === 'panel'"}],
          "mark": {"type": "text", "align": "left", "baseline": "middle", "fontSize": 30, "fontWeight": "bold", "color": "#000000"},
          "encoding": {"text": {"field": "t"}}
        }
      ]
    }
  ]
}
